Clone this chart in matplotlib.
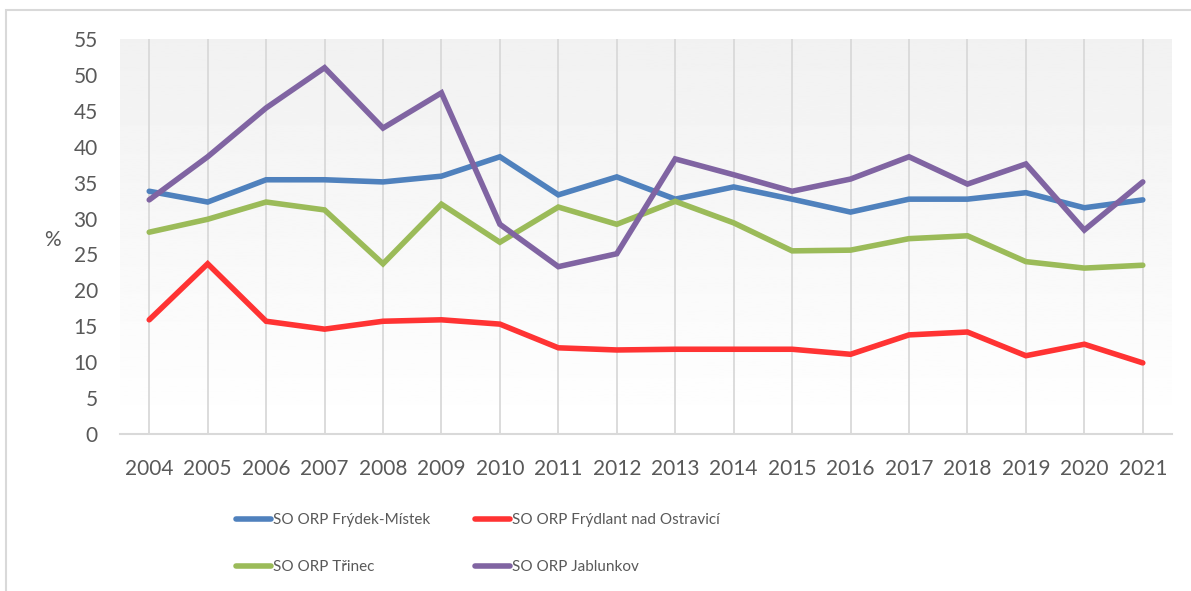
import numpy as np
import matplotlib
matplotlib.use("Agg")
import matplotlib.pyplot as plt
from matplotlib.patches import Rectangle

# === DATA ===
years = list(range(2004, 2022))
frydek_mistek = [33.8, 32.3, 35.4, 35.4, 35.1, 35.9, 38.6, 33.3, 35.8, 32.7,
                 34.4, 32.7, 30.9, 32.7, 32.7, 33.6, 31.5, 32.6]
frydlant = [15.9, 23.7, 15.7, 14.6, 15.7, 15.9, 15.3, 12.0, 11.7, 11.8,
            11.8, 11.8, 11.1, 13.8, 14.2, 10.9, 12.5, 9.9]
trinec = [28.1, 29.9, 32.3, 31.2, 23.7, 32.0, 26.7, 31.6, 29.2, 32.4,
          29.4, 25.5, 25.6, 27.2, 27.6, 24.0, 23.1, 23.5]
jablunkov = [32.6, 38.6, 45.4, 51.0, 42.6, 47.5, 29.2, 23.3, 25.1, 38.3,
             36.1, 33.8, 35.5, 38.6, 34.8, 37.6, 28.4, 35.1]
series_names = ["SO ORP Frýdek-Místek", "SO ORP Frýdlant nad Ostravicí",
                "SO ORP Třinec", "SO ORP Jablunkov"]
y_ticks = list(range(0, 56, 5))

plt.rcParams['font.family'] = ['Lato', 'DejaVu Sans']
text_col = "#595959"

fig = plt.figure(figsize=(11.91, 5.91), dpi=100)
W, H = 1191, 591
ax = fig.add_axes([120 / W, 1 - 434 / H, (1172 - 120) / W, (434 - 39) / H])

# outer chart frame
fig.patches.append(Rectangle((6 / W, -0.1), 1.2, 1 - 10 / H + 0.1,
                             transform=fig.transFigure, fill=False,
                             edgecolor="#D9D9D9", linewidth=1.5, zorder=0))

n = len(years)
x = np.arange(n)
ax.set_xlim(-0.5, n - 0.5)
ax.set_ylim(0, 55)

# background gradient white -> light grey
grad = np.linspace(1.0, 0.945, 256).reshape(-1, 1)
ax.imshow(grad, cmap="gray", vmin=0, vmax=1, aspect="auto",
          extent=[-0.5, n - 0.5, 55, 0], zorder=0)

for xi in x:
    ax.axvline(xi, color="#D9D9D9", linewidth=1.3, zorder=1)

colors = ["#4F81BD", "#FF3333", "#9BBB59", "#8064A2"]
data = [frydek_mistek, frydlant, trinec, jablunkov]
lines = []
for vals, c, name in zip(data, colors, series_names):
    ln, = ax.plot(x, vals, color=c, linewidth=4, solid_capstyle="round",
                  solid_joinstyle="miter", label=name, zorder=3)
    lines.append(ln)

ax.set_xticks(x)
ax.set_xticklabels([str(y) for y in years])
ax.set_yticks(y_ticks)
ax.tick_params(axis="both", length=0, labelsize=15, colors=text_col)
ax.tick_params(axis="x", pad=18)
ax.tick_params(axis="y", pad=16)
for s in ["top", "right", "left"]:
    ax.spines[s].set_visible(False)
ax.spines["bottom"].set_color("#D9D9D9")
ax.spines["bottom"].set_linewidth(1.5)

fig.text(52 / W, 1 - 240 / H, "%", fontsize=15, color=text_col,
         ha="center", va="center")

# legend fills column-wise, so reorder to get row-wise layout
order = [0, 2, 1, 3]
leg = fig.legend([lines[i] for i in order], [series_names[i] for i in order],
                 loc="upper left", bbox_to_anchor=(236 / W, 1 - 513 / H),
                 ncol=2, frameon=False, fontsize=11, handlelength=2.3,
                 handletextpad=0.12, columnspacing=2.9, labelspacing=2.15,
                 borderpad=0, borderaxespad=0)
for t in leg.get_texts():
    t.set_color(text_col)

fig.savefig("out.png", dpi=100)
